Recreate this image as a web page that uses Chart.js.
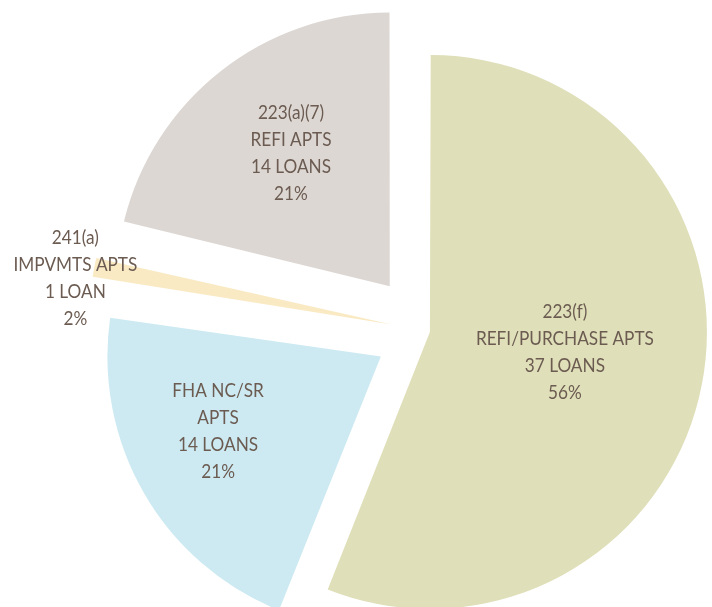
<!DOCTYPE html>
<html>
<head>
<meta charset="utf-8">
<script src="https://cdn.jsdelivr.net/npm/chart.js@4"></script>
<style>
  body { margin: 0; background: #fff; }
  #wrap { width: 712px; height: 607px; }
</style>
</head>
<body>
<div id="wrap"><canvas id="loanPie" width="712" height="607"></canvas></div>
<script>
// slice data, clockwise from 12 o'clock
const programs = ['223(f)', 'FHA NC/SR', '241(a)', '223(a)(7)'];
const loanTypes = ['REFI/PURCHASE APTS', 'APTS', 'IMPVMTS APTS', 'REFI APTS'];
const loanCounts = [37, 14, 1, 14];
const percentLabels = ['56%', '21%', '2%', '21%'];

const sliceColors = ['#dfdfb9', '#cdeaf2', '#faeac4', '#dcd7d3'];
const sliceOffsets = [20, 204, 136, 228];
// where the label sits: share of the radius, and a small turn (deg) off the slice middle
const labelDistance = [0.52, 0.845, 1.3, 0.819];
const labelTurn = [-2.4, 4.2, -2.3, 1.2];

const labelLines = programs.map((p, i) =>
  [p, loanTypes[i], loanCounts[i] + (loanCounts[i] === 1 ? ' LOAN' : ' LOANS'), percentLabels[i]]
);

// draws the four-line labels inside / beside the slices (narrowed, the original face is condensed)
const sliceLabels = {
  id: 'sliceLabels',
  afterDatasetsDraw(chart) {
    const ctx = chart.ctx;
    const arcs = chart.getDatasetMeta(0).data;
    const lineH = 26.8;
    arcs.forEach((arc, i) => {
      const { x, y, startAngle, endAngle, outerRadius } = arc.getProps(['x', 'y', 'startAngle', 'endAngle', 'outerRadius'], true);
      const mid = (startAngle + endAngle) / 2 + labelTurn[i] * Math.PI / 180;
      const d = outerRadius * labelDistance[i];
      const cx = x + Math.cos(mid) * d;
      const cy = y + Math.sin(mid) * d;
      const lines = labelLines[i];
      lines.forEach((t, j) => {
        ctx.save();
        ctx.translate(cx, cy + (j - (lines.length - 1) / 2) * lineH);
        ctx.scale(0.86, 1);
        ctx.font = '20px Lato, "Open Sans", sans-serif';
        ctx.fillStyle = '#6b5b51';
        ctx.textAlign = 'center';
        ctx.textBaseline = 'middle';
        ctx.fillText(t, 0, 0);
        ctx.restore();
      });
    });
  }
};

new Chart(document.getElementById('loanPie'), {
  type: 'pie',
  data: {
    labels: programs,
    datasets: [{
      data: loanCounts,
      backgroundColor: sliceColors,
      borderWidth: 0,
      offset: sliceOffsets
    }]
  },
  options: {
    responsive: false,
    animation: false,
    radius: 272,
    layout: { padding: { left: 138, right: 0, top: 55, bottom: 0 } },
    plugins: {
      legend: { display: false },
      tooltip: { enabled: false }
    }
  },
  plugins: [sliceLabels]
});
</script>
</body>
</html>
